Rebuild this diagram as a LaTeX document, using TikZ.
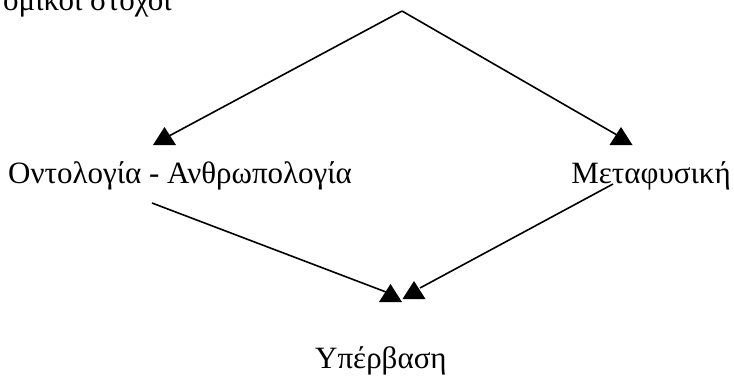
\documentclass[tikz,border=0pt]{standalone}
\usepackage{fontspec}
\setmainfont{Liberation Serif}
\begin{document}
\begin{tikzpicture}[x=1pt,y=-1pt,
  lbl/.style={inner sep=0pt,font=\fontsize{31}{36}\selectfont},
  conn/.style={draw=black,line width=1.6pt},
  tip/.pic={\fill (-11.5,0) -- (11.5,0) -- (0,-18) -- cycle;}]
\useasboundingbox (0,0) rectangle (734,376);
% texts
\node[lbl,anchor=base east] (goal) at (172,10) {ομικοί στόχοι};
\node[lbl,anchor=base west] (onto) at (8,183) {Οντολογία - Ανθρωπολογία};
\node[lbl,anchor=base east] (meta) at (731,183) {Μεταφυσική};
\node[lbl,anchor=base west] (yper) at (315,368) {Υπέρβαση};
% coordinates
\coordinate (apex) at (402,11);
\coordinate (e1) at (169,136);
\coordinate (e2) at (617,135);
\coordinate (s3) at (152,203);
\coordinate (s4) at (613,184);
\coordinate (e3) at (386,292);
\coordinate (e4) at (420,288);
% connectors
\draw[conn] (apex) -- (e1);
\draw[conn] (apex) -- (e2);
\draw[conn] (s3) -- (e3);
\draw[conn] (s4) -- (e4);
% arrowheads
\pic at (164.5,145) {tip};
\pic at (621,145) {tip};
\pic at (390.5,302) {tip};
\pic at (414,299) {tip};
\end{tikzpicture}
\end{document}
